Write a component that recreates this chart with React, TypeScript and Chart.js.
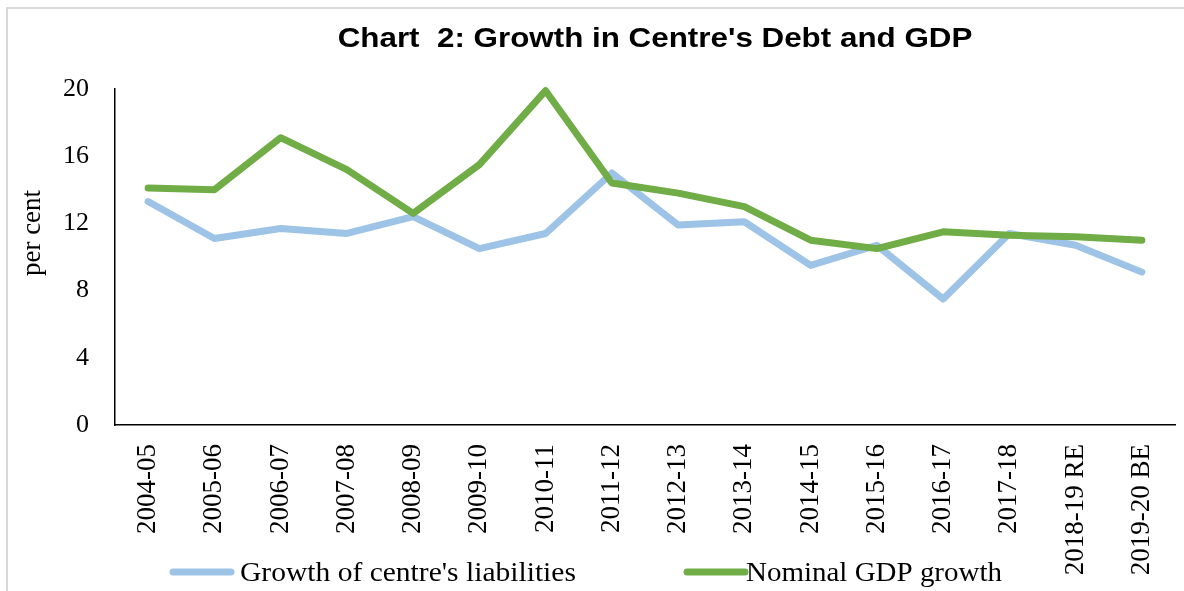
import React, { useEffect, useRef } from "react";
import { Chart, registerables } from "chart.js";

Chart.register(...registerables);

const categories = [
  "2004-05", "2005-06", "2006-07", "2007-08", "2008-09", "2009-10", "2010-11", "2011-12",
  "2012-13", "2013-14", "2014-15", "2015-16", "2016-17", "2017-18", "2018-19 RE", "2019-20 BE",
];
const liabilitiesGrowth = [13.3, 11.1, 11.7, 11.4, 12.4, 10.5, 11.4, 15.0, 11.9, 12.1, 9.5, 10.7, 7.5, 11.4, 10.7, 9.1];
const nominalGdpGrowth = [14.1, 14.0, 17.1, 15.2, 12.6, 15.5, 19.9, 14.4, 13.8, 13.0, 11.0, 10.5, 11.5, 11.3, 11.2, 11.0];
const yTicks = [0, 4, 8, 12, 16, 20];

const titleText = "Chart  2: Growth in Centre's Debt and GDP";
const yTitle = "per cent";
const seriesNames = ["Growth of centre's liabilities", "Nominal GDP growth"];
const blue = "#9DC3E6";
const green = "#70AD47";
const serif = '"Liberation Serif", "Times New Roman", serif';
const sans = '"Liberation Sans", Arial, sans-serif';

const decorPlugin = {
  id: "decor",
  afterDraw(chart: any) {
    const ctx = chart.ctx;
    ctx.save();
    // outer frame
    ctx.strokeStyle = "#d9d9d9";
    ctx.lineWidth = 2;
    ctx.beginPath();
    ctx.moveTo(7, 600);
    ctx.lineTo(7, 8);
    ctx.lineTo(1200, 8);
    ctx.stroke();
    // title
    ctx.fillStyle = "#000";
    ctx.font = "bold 28px " + sans;
    ctx.textAlign = "center";
    ctx.textBaseline = "alphabetic";
    ctx.save();
    ctx.translate(655, 47);
    ctx.scale(1.12, 1);
    ctx.fillText(titleText, 0, 0);
    ctx.restore();
    // y title
    ctx.save();
    ctx.translate(33, 233);
    ctx.rotate(-Math.PI / 2);
    ctx.font = "27px " + serif;
    ctx.textAlign = "center";
    ctx.textBaseline = "middle";
    ctx.fillText(yTitle, 0, 0);
    ctx.restore();
    // legend
    const items = [
      { x: 173, x2: 231, tx: 240, color: blue, label: seriesNames[0], sx: 1.055 },
      { x: 687, x2: 745, tx: 746, color: green, label: seriesNames[1], sx: 1.035 },
    ];
    ctx.font = "28px " + serif;
    ctx.textAlign = "left";
    ctx.textBaseline = "alphabetic";
    for (const it of items) {
      ctx.strokeStyle = it.color;
      ctx.lineWidth = 7;
      ctx.lineCap = "round";
      ctx.beginPath();
      ctx.moveTo(it.x, 572);
      ctx.lineTo(it.x2, 572);
      ctx.stroke();
      ctx.fillStyle = "#000";
      ctx.save();
      ctx.translate(it.tx, 581);
      ctx.scale(it.sx, 1);
      ctx.fillText(it.label, 0, 0);
      ctx.restore();
    }
    ctx.restore();
  },
};

export default function App() {
  const ref = useRef<HTMLCanvasElement | null>(null);
  useEffect(() => {
    if (!ref.current) return;
    const chart = new Chart(ref.current, {
      type: "line",
      data: {
        labels: categories,
        datasets: [
          {
            label: seriesNames[1],
            data: nominalGdpGrowth,
            borderColor: green,
            backgroundColor: green,
            borderWidth: 7,
            pointRadius: 0,
            tension: 0,
            borderCapStyle: "round",
            borderJoinStyle: "round",
            clip: false,
          },
          {
            label: seriesNames[0],
            data: liabilitiesGrowth,
            borderColor: blue,
            backgroundColor: blue,
            borderWidth: 7,
            pointRadius: 0,
            tension: 0,
            borderCapStyle: "round",
            borderJoinStyle: "round",
            clip: false,
          },
        ],
      },
      options: {
        responsive: false,
        animation: false,
        layout: { padding: { top: 89, right: 9, left: 0, bottom: 0 } },
        plugins: {
          legend: { display: false },
          title: { display: false },
          tooltip: { enabled: false },
        },
        scales: {
          x: {
            type: "category",
            offset: true,
            grid: { display: false, drawTicks: false },
            border: { display: true, color: "#000", width: 1.5 },
            ticks: {
              autoSkip: false,
              minRotation: 90,
              maxRotation: 90,
              padding: 19,
              color: "#000",
              font: { family: serif, size: 27 },
            },
            afterFit: (s: any) => {
              s.height = 166;
              s.paddingLeft = 0;
              s.paddingRight = 0;
            },
          },
          y: {
            min: 0,
            max: 20,
            grid: { display: false, drawTicks: false },
            border: { display: true, color: "#000", width: 1.5 },
            ticks: {
              stepSize: 4,
              padding: 26,
              color: "#000",
              font: { family: serif, size: 26 },
            },
            afterBuildTicks: (s: any) => {
              s.ticks = yTicks.map((v) => ({ value: v }));
            },
            afterFit: (s: any) => {
              s.width = 115;
            },
          },
        },
      },
      plugins: [decorPlugin],
    });
    return () => chart.destroy();
  }, []);
  return (
    <div style={{ position: "absolute", left: 0, top: 0, width: 1184, height: 591, background: "#fff" }}>
      <canvas ref={ref} width={1184} height={591} />
    </div>
  );
}
